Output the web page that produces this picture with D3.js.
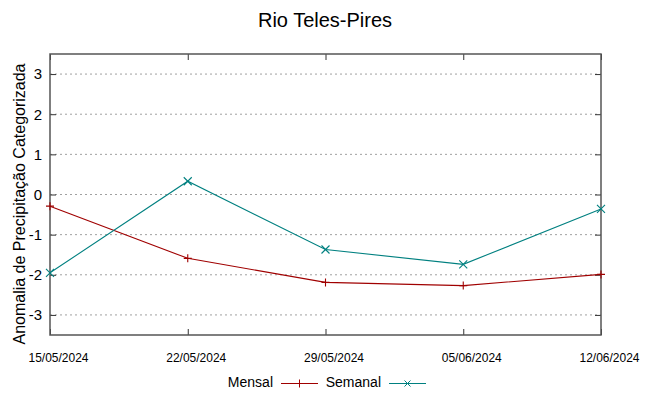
<!DOCTYPE html>
<html>
<head>
<meta charset="utf-8">
<script src="https://cdn.jsdelivr.net/npm/d3@7"></script>
<style>
  body { margin: 0; background: #fff; }
  text { font-family: "Liberation Sans", Arial, sans-serif; fill: #000; }
</style>
</head>
<body>
<svg width="649" height="396"></svg>
<script>
// dados
const dates = ["2024-05-15", "2024-05-22", "2024-05-29", "2024-06-05", "2024-06-12"];
const mensal = [-0.29, -1.59, -2.19, -2.27, -1.99];
const semanal = [-1.95, 0.33, -1.37, -1.74, -0.36];
const yTicks = [-3, -2, -1, 0, 1, 2, 3];
const seriesNames = ["Mensal", "Semanal"];
const colors = ["#a00000", "#008080"];

const svg = d3.select("svg");
const margin = { top: 54, right: 48, bottom: 61, left: 50 };
const width = +svg.attr("width") - margin.left - margin.right;
const height = +svg.attr("height") - margin.top - margin.bottom;
const g = svg.append("g").attr("transform", `translate(${margin.left},${margin.top})`);

const parse = d3.timeParse("%Y-%m-%d");
const fmt = d3.timeFormat("%d/%m/%Y");
const xDates = dates.map(parse);

const x = d3.scaleTime().domain(d3.extent(xDates)).range([0, width]);
const y = d3.scaleLinear().domain([-3.5, 3.5]).range([height, 0]);

// grade
g.selectAll(".grid")
  .data(yTicks)
  .enter()
  .append("line")
  .attr("x1", 0).attr("x2", width)
  .attr("y1", d => y(d)).attr("y2", d => y(d))
  .attr("stroke", "#a0a0a0")
  .attr("stroke-width", 1)
  .attr("stroke-dasharray", "2,3");

// eixos (ticks para dentro)
const axY = g.append("g").call(d3.axisLeft(y).tickValues(yTicks).tickSize(-6).tickPadding(8).tickFormat(d => String(d)));
const axYr = g.append("g").attr("transform", `translate(${width},0)`)
  .call(d3.axisRight(y).tickValues(yTicks).tickSize(-6).tickFormat(""));
const axX = g.append("g").attr("transform", `translate(0,${height})`)
  .call(d3.axisBottom(x).tickValues(xDates).tickSize(-6).tickPadding(17).tickFormat(fmt));
const axXt = g.append("g")
  .call(d3.axisTop(x).tickValues(xDates).tickSize(-6).tickFormat(""));

[axY, axYr, axX, axXt].forEach(a => {
  a.select(".domain").remove();
  a.selectAll(".tick line").attr("stroke", "#333");
});
axY.selectAll("text").attr("font-size", 15).style("font-family", "Liberation Sans");
axX.selectAll("text")
  .attr("font-size", 13.5)
  .attr("dx", 8)
  .attr("textLength", 60)
  .attr("lengthAdjust", "spacingAndGlyphs")
  .style("font-family", "Liberation Sans");

// moldura
g.append("rect")
  .attr("width", width).attr("height", height)
  .attr("fill", "none").attr("stroke", "#555").attr("stroke-width", 1.5);

// linhas
const line = d3.line().x((d, i) => x(xDates[i])).y(d => y(d));
const allSeries = [mensal, semanal];

allSeries.forEach((s, k) => {
  g.append("path")
    .datum(s)
    .attr("fill", "none")
    .attr("stroke", colors[k])
    .attr("stroke-width", 1.1)
    .attr("d", line);

  const pts = g.selectAll(".pt" + k)
    .data(s)
    .enter()
    .append("g")
    .attr("transform", (d, i) => `translate(${x(xDates[i])},${y(d)})`);
  if (k === 0) {
    pts.append("path").attr("d", "M-4,0H4M0,-4V4").attr("stroke", colors[k]).attr("stroke-width", 1.1);
  } else {
    pts.append("path").attr("d", "M-4,-4L4,4M-4,4L4,-4").attr("stroke", colors[k]).attr("stroke-width", 1.1);
  }
});

// titulo
svg.append("text")
  .attr("x", 325).attr("y", 27)
  .attr("text-anchor", "middle")
  .attr("font-size", 20)
  .text("Rio Teles-Pires");

// rotulo do eixo y
svg.append("text")
  .attr("transform", "translate(25,204) rotate(-90)")
  .attr("text-anchor", "middle")
  .attr("font-size", 16)
  .text("Anomalia de Precipitação Categorizada");

// legenda
const legend = [
  { name: seriesNames[0], tx: 273, lx: 281, mark: "M-4,0H4M0,-4V4" },
  { name: seriesNames[1], tx: 381, lx: 389, mark: "M-3,-3L3,3M-3,3L3,-3" }
];
legend.forEach((l, k) => {
  svg.append("text")
    .attr("x", l.tx).attr("y", 387)
    .attr("text-anchor", "end")
    .attr("font-size", 14)
    .text(l.name);
  svg.append("line")
    .attr("x1", l.lx).attr("x2", l.lx + 37)
    .attr("y1", 383.5).attr("y2", 383.5)
    .attr("stroke", colors[k]).attr("stroke-width", 1.1);
  svg.append("path")
    .attr("transform", `translate(${l.lx + 18.5},383.5)`)
    .attr("d", l.mark)
    .attr("stroke", colors[k]).attr("stroke-width", 1);
});
</script>
</body>
</html>
